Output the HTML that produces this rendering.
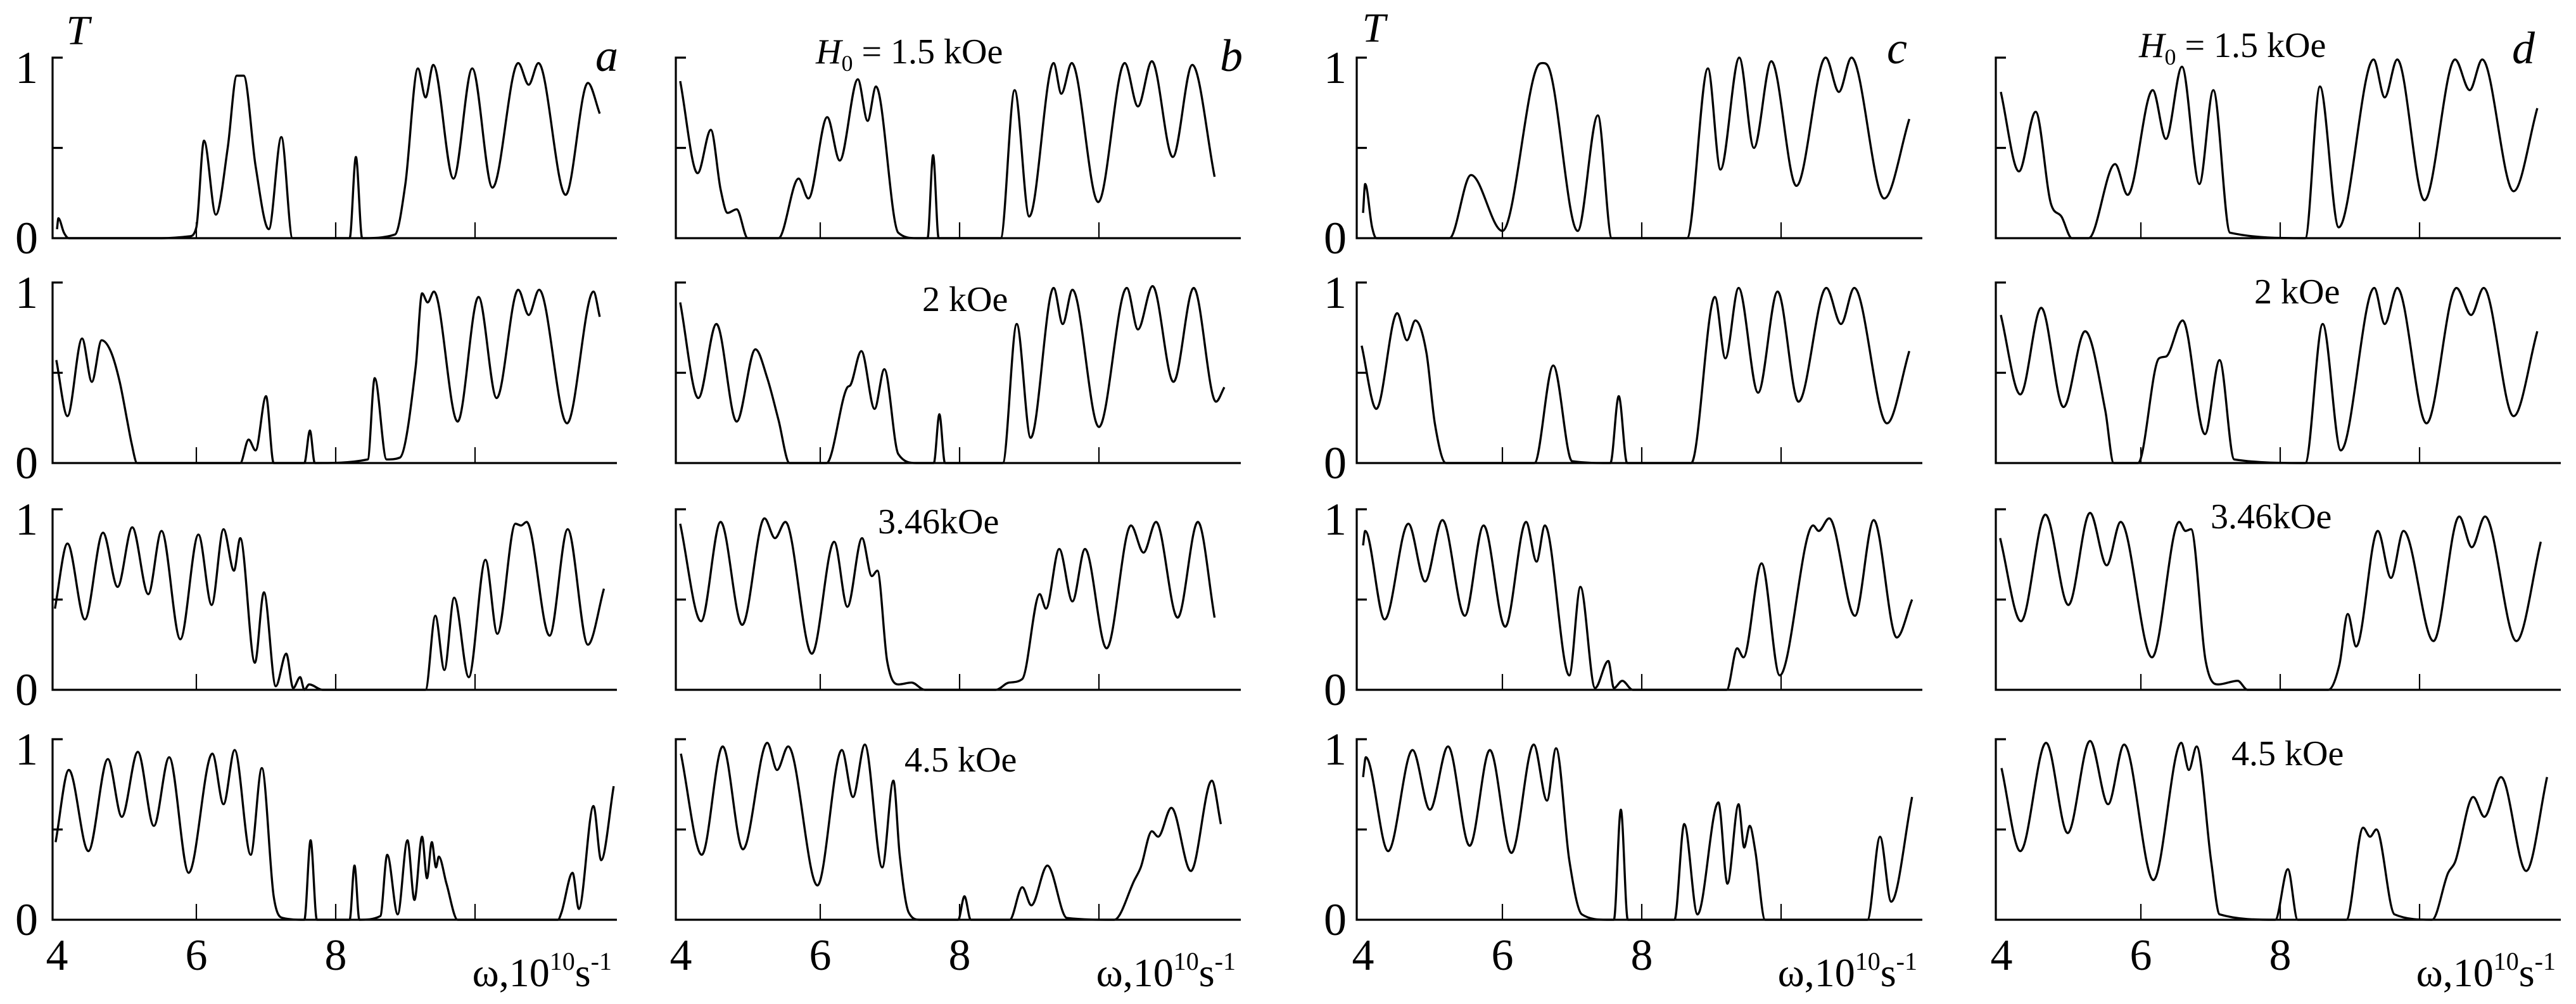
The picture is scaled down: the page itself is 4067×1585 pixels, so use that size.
<!DOCTYPE html>
<html><head><meta charset="utf-8"><title>Transmission spectra T(ω)</title>
<style>
html,body{margin:0;padding:0;background:#fff;}
svg{display:block;}
svg text{font-family:"Liberation Serif","DejaVu Serif",serif;fill:#000;}
</style></head>
<body>
<svg id="fig" width="4067" height="1585" viewBox="0 0 4067 1585" xmlns="http://www.w3.org/2000/svg" font-family="Liberation Serif, DejaVu Serif, serif">
<g id="axes"></g>
<g id="curves"></g>
<g id="labels" font-family="Liberation Serif, DejaVu Serif, serif">
  <text x="123" y="70" font-size="66" font-style="italic" text-anchor="middle">T</text>
  <text x="2169" y="66" font-size="66" font-style="italic" text-anchor="middle">T</text>
  <text x="958" y="112" font-size="72" font-style="italic" text-anchor="middle">a</text>
  <text x="1944" y="112" font-size="72" font-style="italic" text-anchor="middle">b</text>
  <text x="2995" y="100" font-size="72" font-style="italic" text-anchor="middle">c</text>
  <text x="3984" y="100" font-size="72" font-style="italic" text-anchor="middle">d</text>
  <text x="1288" y="100" font-size="56"><tspan font-style="italic">H</tspan><tspan font-size="36" dy="12">0</tspan><tspan dy="-12"> = 1.5 kOe</tspan></text>
  <text x="3377" y="90" font-size="56"><tspan font-style="italic">H</tspan><tspan font-size="36" dy="12">0</tspan><tspan dy="-12"> = 1.5 kOe</tspan></text>
  <text x="1456" y="491" font-size="56">2 kOe</text>
  <text x="3559" y="479" font-size="56">2 kOe</text>
  <text x="1386" y="842" font-size="56">3.46kOe</text>
  <text x="3490" y="834" font-size="56">3.46kOe</text>
  <text x="1428" y="1218" font-size="56">4.5 kOe</text>
  <text x="3523" y="1208" font-size="56">4.5 kOe</text>
</g>
</svg>
<script>
// ---- shared tick data ----
const xTickLabels = [4, 6, 8];
const xMinorTicks = [6, 8, 10];
const yTickLabels = ['0', '1'];

// ---- panel a (column 1) ----
const wA1 = [4.0,4.02,4.1,4.17,5.5,5.9,6.0,6.11,6.28,6.45,6.58,6.68,6.85,7.04,7.22,7.38,8.2,8.29,8.38,8.85,9.0,9.18,9.29,9.40,9.69,9.96,10.25,10.62,10.77,10.91,11.30,11.62,11.79];
const tA1 = [0.05,0.11,0.03,0,0,0.01,0.06,0.54,0.13,0.5,0.9,0.9,0.4,0.05,0.56,0,0,0.45,0,0.02,0.3,0.94,0.78,0.96,0.33,0.94,0.28,0.97,0.85,0.97,0.24,0.86,0.69];
const wA2 = [3.99,4.15,4.36,4.50,4.64,4.77,4.90,5.01,5.07,5.15,6.63,6.75,6.85,7.0,7.11,7.55,7.63,7.70,8.46,8.56,8.73,8.92,9.15,9.24,9.32,9.41,9.75,10.05,10.31,10.62,10.77,10.92,11.32,11.70,11.79];
const tA2 = [0.57,0.26,0.69,0.45,0.68,0.62,0.45,0.23,0.11,0,0,0.13,0.07,0.37,0,0,0.18,0,0.02,0.47,0.02,0.03,0.54,0.94,0.89,0.95,0.23,0.92,0.36,0.96,0.82,0.96,0.22,0.95,0.81];
const wA3 = [3.97,4.15,4.40,4.66,4.87,5.08,5.31,5.50,5.77,6.03,6.22,6.39,6.54,6.63,6.84,6.97,7.14,7.29,7.39,7.49,7.55,7.62,7.81,9.29,9.43,9.56,9.70,9.91,10.15,10.32,10.58,10.66,10.74,11.07,11.33,11.62,11.85];
const tA3 = [0.45,0.81,0.39,0.87,0.57,0.90,0.53,0.88,0.28,0.86,0.47,0.89,0.66,0.84,0.15,0.54,0.02,0.20,0.01,0.07,0,0.03,0,0,0.41,0.11,0.51,0.07,0.72,0.31,0.92,0.91,0.93,0.30,0.89,0.25,0.56];
const wA4 = [3.98,4.17,4.45,4.73,4.93,5.16,5.39,5.61,5.89,6.23,6.39,6.55,6.78,6.94,7.11,7.24,7.55,7.64,7.73,8.20,8.27,8.34,8.64,8.74,8.89,9.03,9.13,9.24,9.31,9.38,9.44,9.48,9.59,9.75,11.19,11.24,11.40,11.49,11.70,11.81,11.99];
const tA4 = [0.43,0.83,0.38,0.89,0.57,0.93,0.52,0.90,0.26,0.92,0.64,0.94,0.36,0.84,0.13,0.01,0,0.44,0,0,0.30,0,0.02,0.36,0.03,0.44,0.11,0.46,0.23,0.43,0.29,0.35,0.2,0,0,0.04,0.26,0.06,0.63,0.33,0.74];

// ---- panel b (column 2) ----
const wB1 = [3.99,4.24,4.43,4.57,4.67,4.80,4.96,5.40,5.69,5.83,6.10,6.28,6.54,6.68,6.80,7.12,7.38,7.54,7.62,7.70,8.59,8.79,9.0,9.35,9.46,9.61,9.99,10.37,10.56,10.76,11.06,11.34,11.66];
const tB1 = [0.87,0.36,0.60,0.27,0.14,0.16,0,0,0.33,0.22,0.67,0.43,0.88,0.65,0.84,0.03,0,0,0.46,0,0,0.82,0.12,0.97,0.80,0.97,0.20,0.97,0.73,0.98,0.45,0.96,0.34];
const wB2 = [3.99,4.25,4.51,4.80,5.07,5.24,5.40,5.56,6.09,6.39,6.43,6.59,6.78,6.92,7.12,7.38,7.63,7.71,7.79,8.62,8.82,9.02,9.35,9.48,9.62,10.0,10.40,10.56,10.77,11.07,11.36,11.68,11.80];
const tB2 = [0.89,0.36,0.77,0.23,0.63,0.47,0.24,0,0,0.42,0.43,0.62,0.30,0.52,0.05,0,0,0.27,0,0,0.77,0.14,0.97,0.77,0.96,0.20,0.97,0.74,0.98,0.45,0.97,0.34,0.42];
const wB3 = [3.99,4.29,4.57,4.88,5.20,5.35,5.50,5.88,6.20,6.39,6.60,6.74,6.82,6.96,7.12,7.31,7.50,8.52,8.71,8.90,9.15,9.24,9.43,9.62,9.80,10.11,10.46,10.64,10.82,11.13,11.42,11.66];
const tB3 = [0.92,0.38,0.93,0.36,0.95,0.84,0.93,0.20,0.82,0.46,0.84,0.63,0.66,0.16,0.03,0.04,0,0,0.04,0.06,0.53,0.45,0.78,0.49,0.78,0.23,0.91,0.76,0.93,0.40,0.93,0.40];
const wB4 = [4.0,4.30,4.60,4.89,5.24,5.38,5.54,5.96,6.31,6.47,6.64,6.89,7.05,7.14,7.27,7.43,7.98,8.07,8.16,8.72,8.90,9.03,9.26,9.54,10.22,10.51,10.60,10.76,10.85,11.04,11.32,11.62,11.75];
const tB4 = [0.92,0.36,0.96,0.39,0.98,0.83,0.96,0.19,0.94,0.68,0.97,0.29,0.77,0.36,0.04,0,0,0.13,0,0,0.18,0.08,0.30,0.01,0,0.22,0.29,0.49,0.46,0.62,0.27,0.77,0.53];

// ---- panel c (column 3) ----
const wC1 = [4.0,4.03,4.13,4.19,5.24,5.55,6.0,6.5,6.58,6.66,7.08,7.37,7.57,8.65,8.95,9.13,9.40,9.61,9.86,10.22,10.64,10.83,11.01,11.48,11.84];
const tC1 = [0.14,0.30,0.06,0,0,0.35,0.04,0.95,0.97,0.95,0.04,0.68,0,0,0.94,0.38,1.0,0.50,0.98,0.29,1.0,0.81,1.0,0.22,0.66];
const wC2 = [3.98,4.19,4.49,4.63,4.75,4.91,5.03,5.19,6.46,6.73,7.0,7.55,7.67,7.79,8.71,9.05,9.20,9.39,9.67,9.95,10.25,10.65,10.86,11.05,11.52,11.84];
const tC2 = [0.65,0.30,0.83,0.68,0.79,0.61,0.22,0,0,0.54,0.01,0,0.37,0,0,0.92,0.58,0.97,0.39,0.95,0.34,0.97,0.77,0.97,0.22,0.62];
const wC3 = [4.0,4.03,4.31,4.65,4.89,5.14,5.46,5.73,6.04,6.34,6.49,6.61,6.96,7.12,7.33,7.52,7.60,7.72,7.87,9.22,9.37,9.46,9.72,9.98,10.46,10.54,10.69,11.06,11.33,11.66,11.88];
const tC3 = [0.80,0.88,0.39,0.92,0.60,0.94,0.41,0.91,0.35,0.93,0.71,0.91,0.08,0.57,0.01,0.16,0.01,0.05,0,0,0.23,0.18,0.70,0.08,0.91,0.88,0.95,0.41,0.94,0.29,0.50];
const wC4 = [4.0,4.04,4.36,4.71,4.96,5.22,5.53,5.82,6.13,6.45,6.64,6.77,6.96,7.14,7.5,7.60,7.70,7.80,8.47,8.61,8.80,9.10,9.23,9.39,9.47,9.55,9.63,9.77,11.24,11.42,11.58,11.88];
const tC4 = [0.79,0.90,0.38,0.94,0.61,0.96,0.41,0.94,0.37,0.97,0.66,0.95,0.33,0.03,0,0,0.61,0,0,0.53,0.03,0.65,0.20,0.64,0.40,0.52,0.38,0,0,0.46,0.10,0.68];

// ---- panel d (column 4) ----
const wD1 = [3.99,4.25,4.49,4.71,4.86,5.01,5.25,5.63,5.81,6.17,6.36,6.59,6.84,7.04,7.28,8.36,8.57,8.84,9.34,9.50,9.68,10.07,10.51,10.72,10.90,11.35,11.69];
const tD1 = [0.81,0.37,0.70,0.19,0.12,0,0,0.41,0.24,0.82,0.55,0.95,0.30,0.82,0.03,0,0.84,0.06,0.99,0.78,0.99,0.21,0.99,0.82,0.99,0.26,0.72];
const wD2 = [3.99,4.27,4.57,4.89,5.20,5.49,5.61,5.96,6.26,6.36,6.60,6.92,7.13,7.34,8.36,8.61,8.87,9.35,9.50,9.68,10.10,10.53,10.74,10.92,11.35,11.69];
const tD2 = [0.82,0.38,0.86,0.31,0.73,0.29,0,0,0.58,0.59,0.79,0.16,0.57,0.02,0,0.77,0.07,0.97,0.77,0.97,0.22,0.97,0.82,0.97,0.26,0.73];
const wD3 = [3.98,4.28,4.63,4.96,5.27,5.51,5.71,6.16,6.55,6.64,6.72,6.93,7.11,7.39,7.53,8.69,8.85,8.97,9.09,9.40,9.59,9.77,10.20,10.57,10.75,10.94,11.39,11.74];
const tD3 = [0.84,0.38,0.97,0.47,0.98,0.69,0.93,0.18,0.93,0.88,0.89,0.16,0.03,0.05,0,0,0.14,0.42,0.24,0.88,0.62,0.88,0.27,0.96,0.79,0.96,0.27,0.82];
const wD4 = [4.0,4.27,4.64,4.95,5.27,5.53,5.76,6.18,6.58,6.69,6.80,7.01,7.13,7.93,8.11,8.25,8.95,9.19,9.29,9.38,9.64,10.18,10.41,10.51,10.77,10.93,11.17,11.53,11.83];
const tD4 = [0.84,0.38,0.98,0.48,0.99,0.64,0.97,0.22,0.98,0.83,0.96,0.32,0.03,0,0.28,0,0,0.51,0.46,0.50,0.03,0,0.26,0.32,0.68,0.57,0.79,0.27,0.79];

// ---- layout (positions, not data) ----
const colX4 = [90, 1075, 2152, 3160];
const colAxisL = [83, 1067, 2142, 3151];
const colAxisR = [974, 1959, 3035, 4043];
const rowBase = [376, 731, 1089, 1452];
const PX_PER_W = 110, PX_PER_T = 285;
const NS = 'http://www.w3.org/2000/svg';
const SERIF = 'Liberation Serif, DejaVu Serif, serif';

function xScale(col, w) { return colX4[col] + (w - 4) * PX_PER_W; }
function yScale(row, t) { return rowBase[row] - t * PX_PER_T; }

function monoPath(px, py) {
  const n = px.length;
  const d = [], m = new Array(n);
  for (let i = 0; i < n - 1; i++) d.push((py[i + 1] - py[i]) / (px[i + 1] - px[i]));
  m[0] = d[0]; m[n - 1] = d[n - 2];
  for (let i = 1; i < n - 1; i++) m[i] = (d[i - 1] * d[i] <= 0) ? 0 : (d[i - 1] + d[i]) / 2;
  for (let k = 0; k < n - 1; k++) {
    if (d[k] === 0) { m[k] = 0; m[k + 1] = 0; continue; }
    const a = m[k] / d[k], b = m[k + 1] / d[k], s = a * a + b * b;
    if (s > 9) { const t = 3 / Math.sqrt(s); m[k] = t * a * d[k]; m[k + 1] = t * b * d[k]; }
  }
  let p = 'M' + px[0].toFixed(1) + ',' + py[0].toFixed(1);
  for (let i = 0; i < n - 1; i++) {
    const dx = (px[i + 1] - px[i]) / 3;
    p += ' C' + (px[i] + dx).toFixed(1) + ',' + (py[i] + m[i] * dx).toFixed(1) + ' ' +
      (px[i + 1] - dx).toFixed(1) + ',' + (py[i + 1] - m[i + 1] * dx).toFixed(1) + ' ' +
      px[i + 1].toFixed(1) + ',' + py[i + 1].toFixed(1);
  }
  return p;
}

function mk(tag, attrs, parent) {
  const el = document.createElementNS(NS, tag);
  for (const k in attrs) el.setAttribute(k, attrs[k]);
  parent.appendChild(el);
  return el;
}

const axesG = document.getElementById('axes');
const curvesG = document.getElementById('curves');
const labelsG = document.getElementById('labels');

const series = [
  [wA1, tA1, wB1, tB1, wC1, tC1, wD1, tD1],
  [wA2, tA2, wB2, tB2, wC2, tC2, wD2, tD2],
  [wA3, tA3, wB3, tB3, wC3, tC3, wD3, tD3],
  [wA4, tA4, wB4, tB4, wC4, tC4, wD4, tD4]
];
const colNames = ['a', 'b', 'c', 'd'];

for (let r = 0; r < 4; r++) {
  for (let c = 0; c < 4; c++) {
    const base = rowBase[r], top = yScale(r, 1), mid = yScale(r, 0.5);
    const L = colAxisL[c], R = colAxisR[c];
    const ax = mk('path', {
      d: 'M' + (L + 16) + ',' + top + ' H' + L + ' V' + base + ' H' + R +
         ' M' + L + ',' + mid + ' H' + (L + 16),
      fill: 'none', stroke: '#000', 'stroke-width': 3.2
    }, axesG);
    
    
    xMinorTicks.forEach(function (w) {
      const x = xScale(c, w);
      const tk = mk('line', { x1: x, x2: x, y1: base, y2: base - 25, stroke: '#000', 'stroke-width': 2.2 }, axesG);
      
      
    });
    const W = series[r][c * 2], T = series[r][c * 2 + 1];
    const px = W.map(function (w) { return xScale(c, w); });
    const py = T.map(function (t) { return yScale(r, t); });
    const path = mk('path', { d: monoPath(px, py), fill: 'none', stroke: '#000', 'stroke-width': 3.4, 'stroke-linejoin': 'round' }, curvesG);
    
    
  }
  [[0, 42], [2, 2108]].forEach(function (pair) {
    const x = pair[1];
    const lab0 = mk('text', { x: x, y: rowBase[r] + 24, 'font-size': 72, 'text-anchor': 'middle', 'font-family': SERIF }, labelsG);
    lab0.textContent = yTickLabels[0];
    
    
    const lab1 = mk('text', { x: x, y: yScale(r, 1) + 40, 'font-size': 72, 'text-anchor': 'middle', 'font-family': SERIF }, labelsG);
    lab1.textContent = yTickLabels[1];
    
    
  });
}

for (let c = 0; c < 4; c++) {
  xTickLabels.forEach(function (w) {
    const t = mk('text', { x: xScale(c, w), y: 1531, 'font-size': 70, 'text-anchor': 'middle', 'font-family': SERIF }, labelsG);
    t.textContent = String(w);
    
    
  });
  const xt = mk('text', { x: colAxisR[c] - 8, y: 1557, 'font-size': 64, 'text-anchor': 'end', 'font-family': SERIF }, labelsG);
  
  
  xt.innerHTML = 'ω,10<tspan font-size="40" dy="-26">10</tspan><tspan dy="26">s</tspan><tspan font-size="40" dy="-26">-1</tspan>';
}
</script>
</body></html>
